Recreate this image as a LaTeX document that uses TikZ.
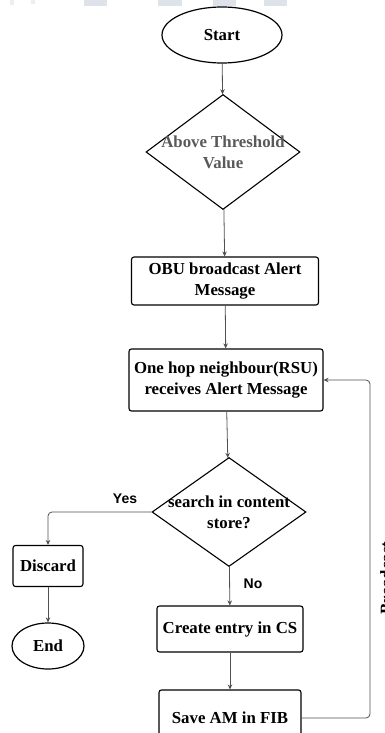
\documentclass[tikz,border=0pt]{standalone}
\usepackage{fontspec}
\setmainfont{Liberation Serif}
\newfontfamily\labelfont{Liberation Sans}
\usetikzlibrary{shapes.geometric,arrows.meta}
\definecolor{linkgray}{RGB}{80,80,80}
\definecolor{markblue}{RGB}{221,227,233}

\begin{document}
\begin{tikzpicture}[x=1pt,y=1pt]
    % font of all boxes
    \def\fnt{\fontsize{16.8}{21}\selectfont\bfseries}
    % node style definition
    \tikzstyle{terminal} = [draw, ellipse, line width=1.2pt, inner sep=0pt, font=\fnt];
    \tikzstyle{block} = [
    	draw, rectangle, rounded corners=2.5pt, line width=1.1pt,
    	align=center, inner sep=0pt, font=\fnt ];
    \tikzstyle{decision} = [draw, diamond, line width=1.1pt, inner sep=0pt];
    \tikzstyle{link} = [draw=linkgray, line width=0.8pt, -{Stealth[length=5pt,width=4.5pt]}];
    \tikzstyle{branch} = [font=\labelfont\bfseries\fontsize{14}{16}\selectfont];
    \useasboundingbox (0,0) rectangle (385,-733);
    % cut-off banner at the top
    \foreach \x/\w in {84/23,158/24,213/23,264/23}
    {
    	\fill[markblue] (\x,0) rectangle ++(\w,-6);
    }
    \fill[markblue!60] (10,0) rectangle ++(4,-5);
    \fill[markblue!60] (31,0) rectangle ++(4,-4);
    % main column
    \node[terminal, minimum width=120pt, minimum height=56pt] (start) at (222,-35) {Start};
    \node[decision, minimum width=154pt, minimum height=115pt,
    	label={[align=center, font=\fnt, text=black!65]center:Above Threshold\\Value}] (thr) at (223,-152) {};
    \node[block, minimum width=187pt, minimum height=48pt] (obu) at (225,-281) {OBU broadcast Alert\\Message};
    \node[block, minimum width=194pt, minimum height=62pt] (rsu) at (226,-380) {One hop neighbour(RSU)\\receives Alert Message};
    \node[decision, minimum width=154pt, minimum height=109pt,
    	label={[align=center, font=\fnt]center:search in content\\store?}] (cs) at (229,-512) {};
    \node[block, minimum width=146pt, minimum height=46pt] (entry) at (230,-629) {Create entry in CS};
    \node[block, minimum width=142pt, minimum height=56pt] (fib) at (230,-718) {Save AM in FIB};
    % yes side
    \node[block, minimum width=70pt, minimum height=41pt] (discard) at (48,-566) {Discard};
    \node[terminal, minimum width=72pt, minimum height=46pt] (end) at (48,-646) {End};
    \node[branch] (yes) at (125,-499) {Yes};
    \node[branch] (no) at (253,-584) {No};
    \node[font=\fnt, rotate=90] (bcast) at (386,-578) {Broadcast};
    % connectors
    \draw[link] (start) -- (thr);
    \draw[link] (thr) -- (obu);
    \draw[link] (obu) -- (rsu);
    \draw[link] (rsu) -- (cs);
    \draw[link] (cs) -- (entry);
    \draw[link] (entry) -- (fib);
    \draw[link, rounded corners=4pt] (cs.west) -| (discard.north);
    \draw[link] (discard) -- (end);
    \coordinate (loop) at (370,-380);
    \draw[link, rounded corners=4pt] (fib.east) -| (loop) -- (rsu.east);
  \end{tikzpicture}
\end{document}
